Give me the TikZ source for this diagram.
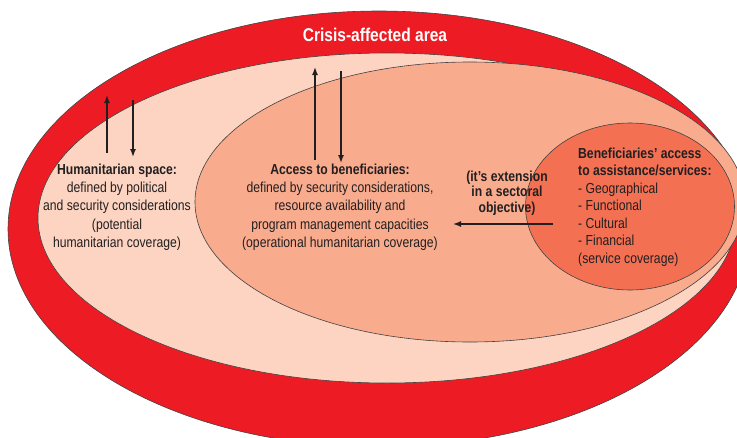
\documentclass[tikz,border=0pt]{standalone}
\usepackage{fontspec}
\setmainfont{Liberation Sans}[FakeStretch=0.84]
\usetikzlibrary{arrows.meta}
\definecolor{redband}{HTML}{ED1C24}
\definecolor{lightpink}{HTML}{FCD4C1}
\definecolor{midpink}{HTML}{F9AB8E}
\definecolor{darkpink}{HTML}{F37053}
\definecolor{inkgray}{HTML}{231F20}
\begin{document}
\begin{tikzpicture}[x=1pt,y=-1pt,
  zone/.style={draw=inkgray!85,line width=0.6pt},
  bodytext/.style={text=inkgray,inner sep=0pt,font=\fontsize{14.5}{18.3}\selectfont},
  flowarrow/.style={draw=inkgray,line width=1.4pt,-{Latex[length=8pt,width=6pt]}}]
\useasboundingbox (0,0) rectangle (737,437);
% zones
\path[zone,fill=redband] (379,229) ellipse [x radius=371pt,y radius=218pt];
\path[zone,fill=lightpink] (387,218) ellipse [x radius=349pt,y radius=165pt];
\path[zone,fill=midpink] (470,202) ellipse [x radius=275pt,y radius=140pt];
\path[zone,fill=darkpink] (630,206.5) ellipse [x radius=104.5pt,y radius=83.5pt];
% texts
\node[text=white,inner sep=0pt,font=\fontsize{18.5}{20}\selectfont\bfseries] (title) at (375,35) {Crisis-affected area};
\node[bodytext,align=center] (hspace) at (117,207) {\textbf{Humanitarian space:}\\defined by political\\and security considerations\\(potential\\humanitarian coverage)};
\node[bodytext,align=center] (access) at (340,207) {\textbf{Access to beneficiaries:}\\defined by security considerations,\\resource availability and\\program management capacities\\(operational humanitarian coverage)};
\node[bodytext,align=center,font=\fontsize{14.5}{15.5}\selectfont\bfseries] (ext) at (507,193) {(it’s extension\\in a sectoral\\objective)};
\node[bodytext,align=left,anchor=west,font=\fontsize{14.5}{17.5}\selectfont] (benef) at (578,207) {\textbf{Beneficiaries’ access}\\\textbf{to assistance/services:}\\- Geographical\\- Functional\\- Cultural\\- Financial\\(service coverage)};
% arrow end points
\coordinate (h1s) at (107,153); \coordinate (h1e) at (107,95);
\coordinate (h2s) at (133,100); \coordinate (h2e) at (133,157);
\coordinate (a1s) at (315,160); \coordinate (a1e) at (315,67);
\coordinate (a2s) at (341,71);  \coordinate (a2e) at (341,163);
\coordinate (bs) at (553,224);  \coordinate (be) at (453,224);
\draw[flowarrow] (h1s) -- (h1e);
\draw[flowarrow] (h2s) -- (h2e);
\draw[flowarrow] (a1s) -- (a1e);
\draw[flowarrow] (a2s) -- (a2e);
\draw[flowarrow] (bs) -- (be);
\end{tikzpicture}
\end{document}
